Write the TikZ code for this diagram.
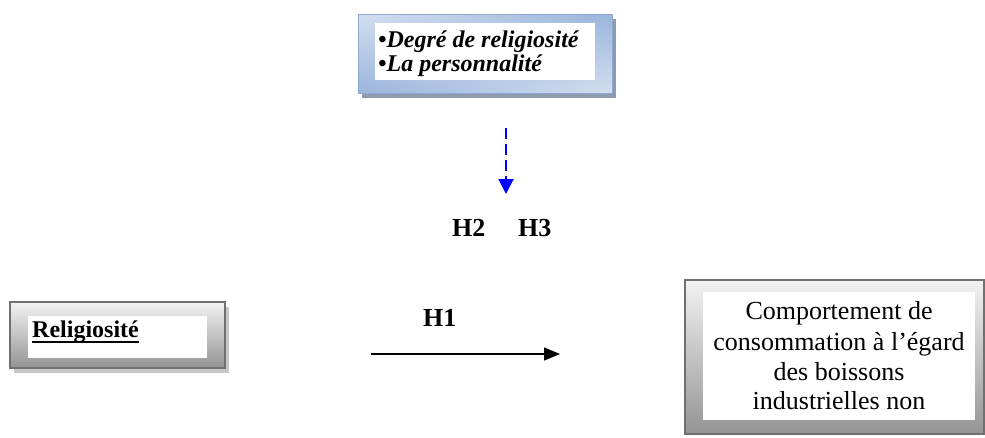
\documentclass[tikz,border=0pt]{standalone}
\usepackage{fontspec}
\setmainfont{Liberation Serif}
\usetikzlibrary{arrows.meta,shadings}
\definecolor{blueA}{HTML}{9AB4DB}
\definecolor{blueB}{HTML}{D3DFF0}
\definecolor{blueBord}{HTML}{8DA8D4}
\definecolor{shadowBlue}{HTML}{8E9AAE}
\definecolor{grayBord}{HTML}{707070}
\definecolor{grayShadow}{HTML}{C6C6C6}
\definecolor{arrowBlue}{HTML}{0000FF}
\tikzset{
  lbl/.style={inner sep=0pt, anchor=base west},
  modtxt/.style={lbl, font=\fontsize{24}{24}\selectfont\bfseries\itshape},
  htxt/.style={lbl, font=\fontsize{26}{26}\selectfont\bfseries},
  outtxt/.style={inner sep=0pt, anchor=base, font=\fontsize{26}{30}\selectfont},
  grayframe/.style={top color=white!95!black, bottom color=white!58!black},
  inner/.style={fill=white},
}
\begin{document}
\begin{tikzpicture}[x=1pt,y=-1pt]
\useasboundingbox (0,0) rectangle (985,437);
% ---------- top moderator box ----------
\fill[shadowBlue] (362,19) rectangle (616,98);
\shade[upper left=blueB, upper right=blueA, lower left=blueA, lower right=blueB] (358,14) rectangle (612,93);
\draw[blueBord, line width=1pt] (358,14) rectangle (612,93);
\fill[inner] (375,23) rectangle (595,80);
\node[modtxt] (mod1) at (378,47) {•Degré de religiosité};
\node[modtxt] (mod2) at (378,71) {•La personnalité};
% ---------- left box ----------
\fill[grayShadow] (14,307) rectangle (229,373);
\shade[grayframe] (10,302) rectangle (225,368);
\draw[grayBord, line width=2.5pt] (10,302) rectangle (225,368);
\fill[inner] (28,316) rectangle (207,358);
\node[lbl, font=\fontsize{24}{24}\selectfont\bfseries] (rel) at (32,337) {Religiosité};
\draw[line width=2.2pt] ([yshift=-5pt]rel.base west) -- ([yshift=-5pt]rel.base east);
% ---------- right box ----------
\shade[grayframe] (685,280) rectangle (984,434);
\draw[grayBord, line width=2pt] (685,280) rectangle (984,434);
\fill[inner] (703,292) rectangle (975,420);
\node[outtxt] (out1) at (839,319) {Comportement de};
\node[outtxt] (out2) at (839,350) {consommation à l’égard};
\node[outtxt] (out3) at (839,380) {des boissons};
\node[outtxt] (out4) at (839,409) {industrielles non};
% ---------- labels ----------
\node[htxt] (h2) at (452,236) {H2};
\node[htxt] (h3) at (518,236) {H3};
\node[htxt] (h1) at (423,326) {H1};
% ---------- arrows ----------
\coordinate (d1) at (506,128);
\coordinate (d2) at (506,194);
\draw[arrowBlue, line width=2pt, dash pattern=on 11pt off 5pt,
      -{Triangle[length=15pt,width=15pt]}] (d1) -- (d2);
\coordinate (a1) at (371,354);
\coordinate (a2) at (560,354);
\draw[line width=1.3pt, -{Triangle[length=16pt,width=13pt]}] (a1) -- (a2);
\end{tikzpicture}
\end{document}
